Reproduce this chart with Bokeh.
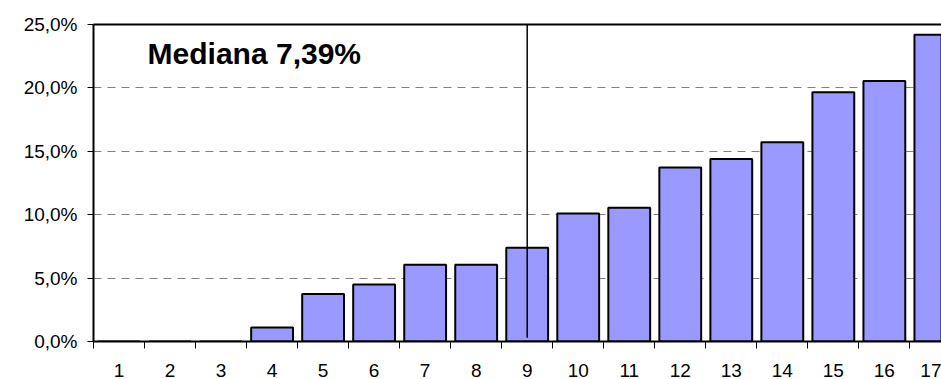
from bokeh.plotting import figure
from bokeh.models import (ColumnDataSource, FixedTicker, LinearAxis, Range1d, Label)
from bokeh.embed import file_html
from bokeh.resources import INLINE

# ---- data ----
categories = list(range(1, 18))
values = [0.0, 0.0, 0.0, 1.1, 3.75, 4.5, 6.05, 6.05, 7.39, 10.1, 10.55,
          13.73, 14.4, 15.72, 19.65, 20.55, 24.2]
y_ticks = [0, 5, 10, 15, 20, 25]
y_tick_labels = ["0,0%", "5,0%", "10,0%", "15,0%", "20,0%", "25,0%"]
median_category = 9
median_label = "Mediana 7,39%"

FONT = "Liberation Sans"

source = ColumnDataSource(dict(x=categories, top=values))

p = figure(width=941, height=379, output_backend="svg", toolbar_location=None,
           x_range=Range1d(0.5, 17.12), y_range=Range1d(0, 25),
           min_border_left=93, min_border_right=0, min_border_top=24,
           min_border_bottom=37, x_axis_location=None, y_axis_location=None)
p.outline_line_color = None
p.background_fill_color = "white"
p.border_fill_color = "white"

# left axis
yax = LinearAxis(ticker=FixedTicker(ticks=y_ticks))
yax.major_label_overrides = {t: l for t, l in zip(y_ticks, y_tick_labels)}
yax.axis_line_width = 2
yax.axis_line_color = "black"
yax.major_tick_in = 0
yax.major_tick_out = 6
yax.major_tick_line_color = "black"
yax.minor_tick_line_color = None
yax.major_label_text_font = FONT
yax.major_label_text_font_size = "19px"
yax.major_label_text_color = "black"
yax.major_label_standoff = 10
p.add_layout(yax, "left")

# bottom axis: labels at centers, tick marks at boundaries
xax = LinearAxis(ticker=FixedTicker(ticks=categories,
                                    minor_ticks=[c - 0.5 for c in categories] + [categories[-1] + 0.5]))
xax.major_label_overrides = {c: str(c) for c in categories}
xax.axis_line_width = 2
xax.axis_line_color = "black"
xax.major_tick_in = 0
xax.major_tick_out = 0
xax.minor_tick_in = 0
xax.minor_tick_out = 7
xax.minor_tick_line_color = "black"
xax.minor_tick_line_width = 1
xax.major_label_text_font = FONT
xax.major_label_text_font_size = "19px"
xax.major_label_text_color = "black"
xax.major_label_standoff = 15
p.add_layout(xax, "below")

# top border as an axis without ticks/labels
tax = LinearAxis(ticker=FixedTicker(ticks=[]))
tax.axis_line_width = 2
tax.axis_line_color = "black"
tax.major_tick_line_color = None
tax.minor_tick_line_color = None
tax.major_label_text_font_size = "0px"
p.add_layout(tax, "above")

# grid
p.xgrid.visible = False
p.ygrid.ticker = FixedTicker(ticks=y_ticks)
p.ygrid.grid_line_color = "#808080"
p.ygrid.grid_line_dash = "8 6"
p.ygrid.grid_line_width = 1

# bars
p.vbar(x="x", top="top", width=0.82, bottom=0, source=source,
       fill_color="#9999FF", line_color="black", line_width=2)

# median line
p.segment(x0=[median_category], y0=[0.3], x1=[median_category], y1=[25],
          line_color="black", line_width=1.5)

# label
lab = Label(x=1.56, y=22.75, text=median_label, text_font=FONT,
            text_font_size="30px", text_font_style="bold", text_color="black",
            text_align="left", text_baseline="alphabetic")
p.add_layout(lab)

open("out.html", "w").write(file_html(p, INLINE))
